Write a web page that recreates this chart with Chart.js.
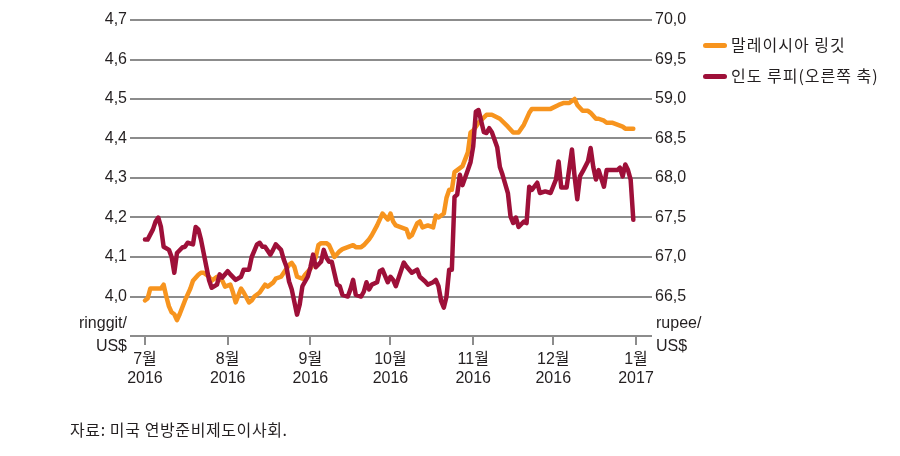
<!DOCTYPE html>
<html>
<head>
<meta charset="utf-8">
<script src="https://cdn.jsdelivr.net/npm/chart.js@4/dist/chart.umd.min.js"></script>
<style>
  html, body { margin:0; padding:0; background:#fff; }
  #wrap { position:relative; width:900px; height:456px; font-family:'Liberation Sans','Noto Sans CJK KR',sans-serif; color:#231f20; }
  #wrap canvas { position:absolute; left:0; top:0; }
  .lbl { position:absolute; font-size:16px; line-height:18px; white-space:nowrap; }
  .legend { position:absolute; left:703px; font-size:16px; line-height:18px; letter-spacing:1px; white-space:nowrap; font-family:'Noto Sans CJK KR',sans-serif; }
  .legend i { display:inline-block; width:24px; height:5px; border-radius:3px; vertical-align:middle; margin-right:4px; position:relative; top:-1px; }
  .src { position:absolute; left:70px; top:417px; font-size:16px; letter-spacing:0.6px; font-family:'Noto Sans CJK KR',sans-serif; }
</style>
</head>
<body>
<div id="wrap">
  <canvas id="chart" width="900" height="456"></canvas>
  <div class="lbl" style="right:773px; top:314px;">ringgit/</div>
  <div class="lbl" style="right:773px; top:337px;">US$</div>
  <div class="lbl" style="left:656px; top:314px;">rupee/</div>
  <div class="lbl" style="left:656px; top:337px;">US$</div>
  <div class="legend" style="top:35px;"><i style="background:#f7941e"></i>말레이시아 링깃</div>
  <div class="legend" style="top:66px;"><i style="background:#9e1039"></i>인도 루피(오른쪽 축)</div>
  <div class="src">자료: 미국 연방준비제도이사회.</div>
</div>
<script>
// days counted from 1 Jul 2016
const monthDays = [0, 31, 62, 92, 123, 153, 184];
const monthLabels = [['7월','2016'],['8월','2016'],['9월','2016'],['10월','2016'],['11월','2016'],['12월','2016'],['1월','2017']];

const leftTickValues = [3.9, 4.0, 4.1, 4.2, 4.3, 4.4, 4.5, 4.6, 4.7];
const leftTickLabels = ['', '4,0', '4,1', '4,2', '4,3', '4,4', '4,5', '4,6', '4,7'];
const rightTickValues = [66.0, 66.5, 67.0, 67.5, 68.0, 68.5, 69.0, 69.5, 70.0];
const rightTickLabels = ['', '66,5', '67,0', '67,5', '68,0', '68,5', '59,0', '69,5', '70,0'];

// Malaysian ringgit per US$ (left axis)
const ringgitDay = [0,1,2,4,6,7,8,9,10,11,12,13,15,17,18,20,21,22,24,25,27,29,30,32,33,34,36,37,39,40,41,43,45,46,48,49,51,52,54,55,56,57,59,60,62,64,65,66,68,69,71,73,74,76,78,79,81,82,84,85,87,89,91,92,93,94,96,98,99,100,102,103,104,106,108,109,110,112,113,114,115,116,118,119,121,122,123,124,125,128,130,133,136,138,140,142,144,145,148,151,152,155,157,159,161,162,164,166,167,169,170,172,173,175,177,179,180,182,183];
const ringgitValue = [3.99,3.995,4.02,4.02,4.02,4.03,4.0,3.975,3.96,3.955,3.94,3.955,3.99,4.02,4.04,4.055,4.06,4.06,4.05,4.04,4.05,4.04,4.025,4.03,4.01,3.985,4.02,4.01,3.985,3.99,4.0,4.01,4.03,4.025,4.035,4.045,4.05,4.06,4.08,4.085,4.075,4.05,4.045,4.055,4.07,4.1,4.13,4.135,4.135,4.13,4.1,4.115,4.12,4.125,4.13,4.125,4.125,4.13,4.145,4.155,4.18,4.21,4.195,4.21,4.19,4.18,4.175,4.17,4.15,4.155,4.185,4.19,4.175,4.18,4.175,4.205,4.2,4.21,4.25,4.27,4.27,4.315,4.325,4.33,4.365,4.415,4.42,4.43,4.44,4.46,4.46,4.45,4.43,4.415,4.415,4.435,4.465,4.475,4.475,4.475,4.475,4.485,4.49,4.49,4.5,4.485,4.47,4.47,4.465,4.45,4.45,4.445,4.44,4.44,4.435,4.43,4.425,4.425,4.425];

// Indian rupee per US$ (right axis)
const rupeeDay = [0,1,3,4,5,6,7,9,10,11,12,14,15,16,18,19,20,21,23,24,25,27,28,29,31,32,34,36,37,39,40,42,43,44,45,47,48,49,51,52,53,54,55,57,58,59,61,62,63,64,66,67,68,69,70,72,73,74,76,77,78,79,81,82,83,84,85,87,88,89,91,92,93,94,97,98,100,102,103,105,106,108,109,110,111,112,113,114,115,116,117,118,119,121,122,123,124,125,127,128,129,130,132,133,134,136,137,138,139,140,142,143,144,145,147,148,150,152,154,155,156,157,158,160,161,162,163,164,166,167,168,169,170,172,173,175,177,178,179,180,181,182,183];
const rupeeValue = [67.22,67.22,67.35,67.45,67.5,67.38,67.13,67.09,67.0,66.8,67.05,67.12,67.13,67.18,67.16,67.38,67.35,67.22,66.88,66.71,66.61,66.65,66.78,66.74,66.82,66.78,66.71,66.75,66.84,66.84,67.0,67.16,67.18,67.13,67.13,67.03,67.09,67.16,67.09,66.97,66.88,66.69,66.59,66.27,66.4,66.63,66.75,66.87,67.03,66.87,66.94,67.09,66.99,66.94,66.94,66.65,66.63,66.52,66.5,66.59,66.71,66.52,66.5,66.56,66.68,66.59,66.65,66.68,66.82,66.84,66.68,66.75,66.71,66.63,66.93,66.88,66.8,66.84,66.75,66.69,66.65,66.68,66.71,66.63,66.44,66.36,66.5,66.84,66.84,67.76,67.79,68.04,67.91,68.1,68.2,68.4,68.84,68.86,68.58,68.57,68.63,68.58,68.39,68.14,68.04,67.81,67.51,67.43,67.5,67.38,67.45,67.43,67.89,67.85,67.94,67.81,67.83,67.81,67.98,68.21,67.88,67.88,67.88,68.36,68.02,67.73,68.02,68.08,68.21,68.38,68.14,67.98,68.1,67.89,68.1,68.1,68.1,68.13,68.02,68.17,68.1,67.98,67.47];

const ORANGE = '#f7941e';
const MAROON = '#9e1039';
const GRID = '#8c8c8c';
const TEXT = '#231f20';
const FONT = "'Liberation Sans','Noto Sans CJK KR',sans-serif";

const toPoints = (xs, ys) => xs.map((d, i) => ({ x: d, y: ys[i] }));

new Chart(document.getElementById('chart'), {
  type: 'line',
  data: {
    datasets: [
      {
        label: '인도 루피(오른쪽 축)',
        data: toPoints(rupeeDay, rupeeValue),
        yAxisID: 'yR',
        borderColor: MAROON,
        borderWidth: 4.5,
        pointRadius: 0,
        tension: 0,
        borderJoinStyle: 'round',
        borderCapStyle: 'round',
        order: 1
      },
      {
        label: '말레이시아 링깃',
        data: toPoints(ringgitDay, ringgitValue),
        yAxisID: 'yL',
        borderColor: ORANGE,
        borderWidth: 4.5,
        pointRadius: 0,
        tension: 0,
        borderJoinStyle: 'round',
        borderCapStyle: 'round',
        order: 2
      }
    ]
  },
  options: {
    responsive: false,
    animation: false,
    layout: { padding: { top: 20, left: 0, right: 0, bottom: 0 } },
    plugins: { legend: { display: false }, tooltip: { enabled: false } },
    scales: {
      x: {
        type: 'linear',
        min: -5.6,
        max: 190,
        afterBuildTicks: (s) => { s.ticks = monthDays.map(v => ({ value: v })); },
        afterFit: (s) => { s.height = 120; },
        ticks: {
          autoSkip: false,
          maxRotation: 0,
          padding: 5,
          color: TEXT,
          font: { family: FONT, size: 16, lineHeight: 1.18 },
          callback: (v, i) => monthLabels[i]
        },
        grid: { drawOnChartArea: false, drawTicks: true, tickLength: 9, color: GRID, lineWidth: 2 },
        border: { display: false }
      },
      yL: {
        position: 'left',
        min: 3.9,
        max: 4.7,
        afterBuildTicks: (s) => { s.ticks = leftTickValues.map(v => ({ value: v })); },
        afterFit: (s) => { s.width = 130; },
        ticks: {
          padding: 3,
          color: TEXT,
          font: { family: FONT, size: 16 },
          callback: (v, i) => leftTickLabels[i]
        },
        grid: { color: GRID, lineWidth: 2, drawTicks: false },
        border: { display: false }
      },
      yR: {
        position: 'right',
        min: 66.0,
        max: 70.0,
        afterBuildTicks: (s) => { s.ticks = rightTickValues.map(v => ({ value: v })); },
        afterFit: (s) => { s.width = 248; },
        ticks: {
          padding: 3,
          color: TEXT,
          font: { family: FONT, size: 16 },
          callback: (v, i) => rightTickLabels[i]
        },
        grid: { display: false, drawTicks: false },
        border: { display: false }
      }
    }
  }
});
</script>
</body>
</html>
